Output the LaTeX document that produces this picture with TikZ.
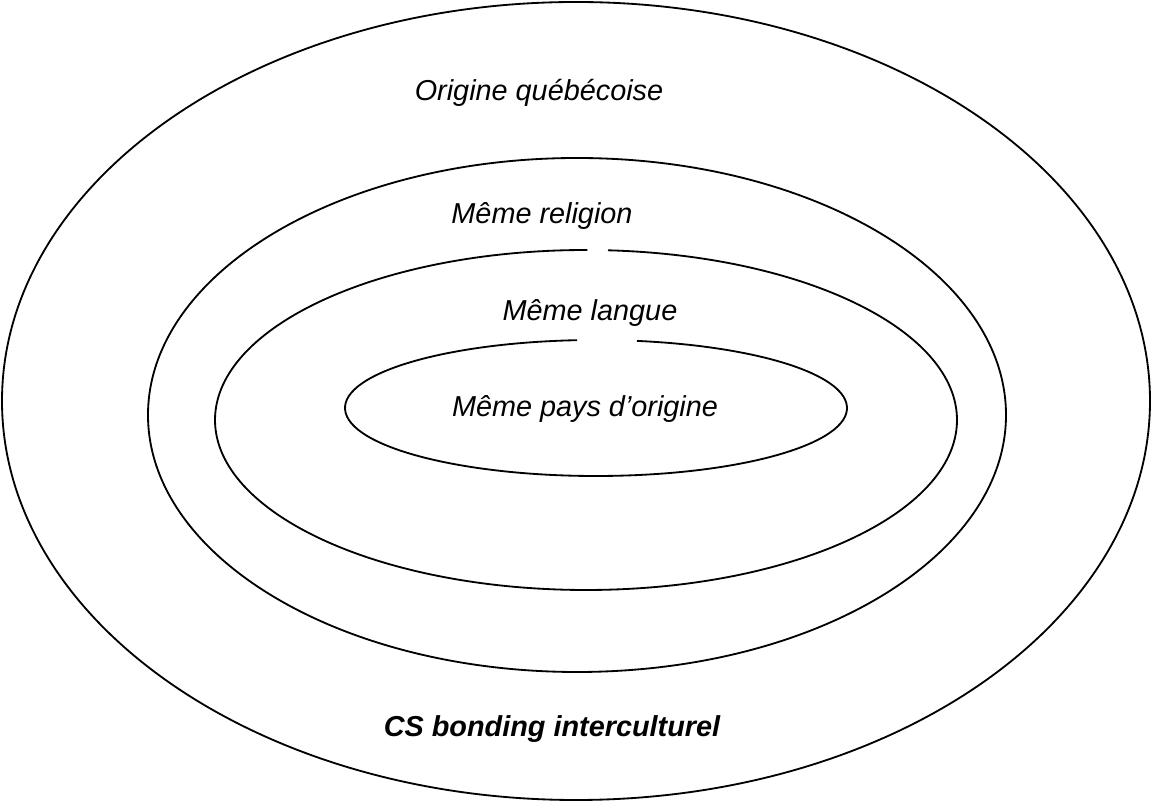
\documentclass[tikz,border=0pt]{standalone}
\usepackage{fontspec}
\setmainfont{Liberation Sans}
\usetikzlibrary{positioning}

\begin{document}
\begin{tikzpicture}[
    x=0.025cm, y=0.025cm,
    every node/.style={font=\fontsize{20.5}{24}\selectfont\itshape},
    ring/.style={draw, line width=1.3pt},
    lbl/.style={inner sep=0pt},
]
    \useasboundingbox (0,0) rectangle (1152,808);

    % Cercles
    \draw[ring] (576,407) ellipse [x radius=574, y radius=399];
    \draw[ring] (577,393) ellipse [x radius=429, y radius=257];
    \draw[ring] (586,388) ++(89.8:371 and 170)
        arc[start angle=89.8, end angle=446.6, x radius=371, y radius=170];
    \draw[ring] (596,400) ++(94.3:251 and 68)
        arc[start angle=94.3, end angle=440.6, x radius=251, y radius=68];

    % Etiquettes
    \node[lbl] (orig) at (539,715) {Origine québécoise};
    \node[lbl] (rel)  at (542,592) {Même religion};
    \node[lbl] (lang) at (590,495) {Même langue};
    \node[lbl] (pays) at (585,399) {Même pays d’origine};
    \node[lbl] (cs)   at (552,79)  {\bfseries CS bonding interculturel};

\end{tikzpicture}
\end{document}
